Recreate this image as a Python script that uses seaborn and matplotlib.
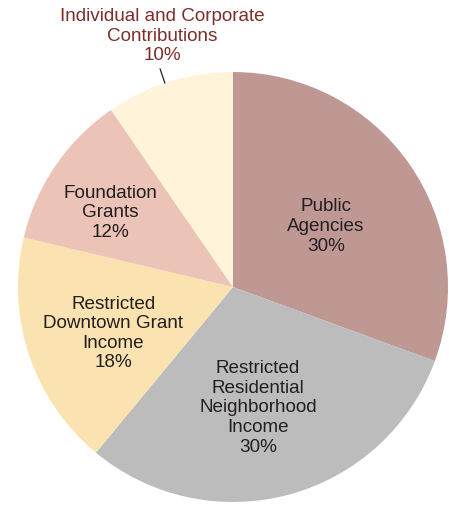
import matplotlib
matplotlib.use("Agg")
import matplotlib.pyplot as plt
import seaborn as sns
import numpy as np

# Data
categories = ["Public\nAgencies", "Restricted\nResidential\nNeighborhood\nIncome",
              "Restricted\nDowntown Grant\nIncome", "Foundation\nGrants",
              "Individual and Corporate\nContributions"]
shares = [30.6, 30.4, 17.7, 11.7, 9.6]
share_labels = ["30%", "30%", "18%", "12%", "10%"]

sns.set_theme(style="white")
plt.rcParams['font.family'] = ['Liberation Sans', 'DejaVu Sans']

colors = sns.color_palette(["#BF9894", "#BCBCBC", "#FBE3B1", "#EBC3B7", "#FFF4DA"])

fig = plt.figure(figsize=(4.49, 5.06), dpi=100)
ax = fig.add_axes([18/449, 3/506, 430/449, 430/506])
wedges, _ = ax.pie(shares, colors=colors, startangle=90, counterclock=False,
                   radius=1, wedgeprops=dict(linewidth=0))
ax.set_xlim(-1, 1)
ax.set_ylim(-1, 1)
ax.set_aspect("equal")
ax.axis("off")

# label layout (data coords)
label_pos = [(0.433, 0.286), (0.116, -0.558), (-0.556, -0.212), (-0.572, 0.349)]
for i, (x, y) in enumerate(label_pos):
    ax.text(x, y, f"{categories[i]}\n{share_labels[i]}", ha="center", va="center",
            fontsize=13.6, color="#231F20", linespacing=1.2)

# outside label with leader line
w = wedges[4]
mid = np.deg2rad((w.theta1 + w.theta2) / 2 + 1.2)
ax.plot([np.cos(mid) * 1.0, np.cos(mid) * 1.07], [np.sin(mid) * 1.0, np.sin(mid) * 1.07],
        color="#231F20", lw=0.9, clip_on=False)
ax.text(-0.330, 1.172, f"{categories[4]}\n{share_labels[4]}", ha="center", va="center",
        fontsize=13.6, color="#7B2E2A", linespacing=1.2, clip_on=False)

fig.savefig("out.png", dpi=100)
